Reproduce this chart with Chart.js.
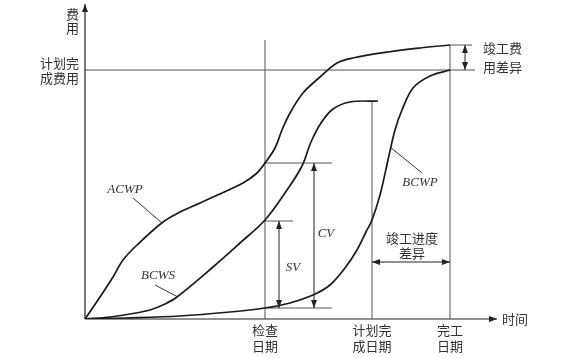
<!DOCTYPE html>
<html><head><meta charset="utf-8">
<script src="https://cdn.jsdelivr.net/npm/chart.js@4/dist/chart.umd.min.js"></script>
<style>html,body{margin:0;padding:0;background:#fff}canvas{display:block}</style>
</head><body>
<canvas id="c" width="579" height="358"></canvas>
<script>
// Time (x) and cost (y) in abstract units
const ACWP = [[0,0],[15,22],[28,42],[38,59],[52,74],[78,97],[95,107],[115,116],[128,122],[158,136],[172,146],[180,156],[190,171],[197,189],[205,206],[218,226],[235,242],[252,256],[268,261],[303,267],[335,271],[365,274]];
const BCWS = [[0,0],[25,2],[45,5],[65,9],[80,15],[92,22],[128,52],[155,76],[180,99],[202,129],[217,153],[226,177],[236,196],[248,210],[265,217],[293,218]];
const BCWP = [[0,0],[40,1],[95,3],[145,7],[180,11],[205,16],[228,24],[245,34],[260,51],[272,69],[281,87],[287,99],[295,124],[303,159],[310,189],[317,209],[328,231],[345,243],[365,249]];
const dateValues = [180, 287, 365];
const dateLabels = [['检查','日期'],['计划完','成日期'],['完工','日期']];
const plannedCost = 249;
const finalActualCost = 274;
const checkValues = {ACWP:156, BCWS:98, BCWP:11};
const axisMax = {x:412, y:315};

const line = (pts, w, c) => ({data: pts.map(p=>({x:p[0],y:p[1]})), showLine:true, pointRadius:0, borderColor:c, borderWidth:w, tension:0, fill:false});
const curve = (pts) => Object.assign(line(pts, 1.7, '#1a1a1a'), {tension:0.35});
const G = '#555';
const datasets = [
  curve(ACWP), curve(BCWS), curve(BCWP),
  line([[dateValues[0],0],[dateValues[0],279]],1,G),
  line([[dateValues[1],0],[dateValues[1],218]],1,G),
  line([[dateValues[2],0],[dateValues[2],finalActualCost]],1,G),
  line([[0,plannedCost],[390,plannedCost]],1,G),
  line([[dateValues[2],finalActualCost],[387,finalActualCost]],1,G),
  line([[dateValues[0],checkValues.ACWP],[247,checkValues.ACWP]],1,G),
  line([[dateValues[0],checkValues.BCWS],[208,checkValues.BCWS]],1,G),
  line([[dateValues[0],checkValues.BCWP],[247,checkValues.BCWP]],1,G),
  line([[48,121],[77,96]],1,'#333'),
  line([[70,34],[93,22]],1,'#333'),
  line([[305,172],[337,146]],1,'#333')
];

function arrowHead(ctx, x1,y1,x2,y2){ // tip at x2,y2
  const a = Math.atan2(y2-y1,x2-x1), L=8, W=3;
  ctx.beginPath();
  ctx.moveTo(x2,y2);
  ctx.lineTo(x2-L*Math.cos(a)+W*Math.sin(a), y2-L*Math.sin(a)-W*Math.cos(a));
  ctx.lineTo(x2-L*Math.cos(a)-W*Math.sin(a), y2-L*Math.sin(a)+W*Math.cos(a));
  ctx.closePath(); ctx.fill();
}
const deco = {
  id:'deco',
  afterDatasetsDraw(chart){
    const ctx=chart.ctx, xs=chart.scales.x, ys=chart.scales.y;
    const X=v=>xs.getPixelForValue(v), Y=v=>ys.getPixelForValue(v);
    ctx.save();
    ctx.strokeStyle='#222'; ctx.fillStyle='#222'; ctx.lineWidth=1.2;
    // axes
    ctx.beginPath(); ctx.moveTo(X(0),Y(0)); ctx.lineTo(X(0),Y(axisMax.y)); ctx.stroke();
    arrowHead(ctx,X(0),Y(0),X(0),Y(axisMax.y));
    ctx.beginPath(); ctx.moveTo(X(0),Y(0)); ctx.lineTo(X(axisMax.x),Y(0)); ctx.stroke();
    arrowHead(ctx,X(0),Y(0),X(axisMax.x),Y(0));
    // double arrows
    ctx.lineWidth=1;
    const dbl=(x1,y1,x2,y2)=>{ctx.beginPath();ctx.moveTo(x1,y1);ctx.lineTo(x2,y2);ctx.stroke();arrowHead(ctx,x1,y1,x2,y2);arrowHead(ctx,x2,y2,x1,y1);};
    dbl(X(229),Y(checkValues.BCWP),X(229),Y(checkValues.ACWP));
    dbl(X(194),Y(checkValues.BCWP),X(194),Y(checkValues.BCWS));
    dbl(X(380),Y(plannedCost),X(380),Y(finalActualCost));
    dbl(X(dateValues[1]),Y(57),X(dateValues[2]),Y(57));
    // texts
    ctx.fillStyle='#333';
    ctx.font='13px "Noto Sans CJK SC"'; ctx.textBaseline='middle';
    ctx.textAlign='center';
    dateValues.forEach((v,i)=>{ dateLabels[i].forEach((t,j)=>ctx.fillText(t, X(v), Y(0)+11+j*16)); });
    ctx.textAlign='right';
    ctx.fillText('费',X(0)-6,Y(305)); ctx.fillText('用',X(0)-6,Y(291));
    ctx.fillText('计划完',X(0)-6,Y(plannedCost)-7); ctx.fillText('成费用',X(0)-6,Y(plannedCost)+8);
    ctx.textAlign='left';
    ctx.fillText('时间',X(axisMax.x)+5,Y(0));
    ctx.fillText('竣工费',X(398),Y(271)); ctx.fillText('用差异',X(398),Y(252));
    ctx.textAlign='center';
    ctx.fillText('竣工进度',X(327),Y(81)); ctx.fillText('差异',X(327),Y(66));
    ctx.font='italic 13px "Liberation Serif"';
    ctx.fillText('ACWP',X(40),Y(129));
    ctx.fillText('BCWS',X(73),Y(43));
    ctx.fillText('BCWP',X(335),Y(136));
    ctx.fillText('CV',X(241),Y(85));
    ctx.fillText('SV',X(208),Y(51));
    ctx.restore();
  }
};
new Chart(document.getElementById('c'),{
  type:'scatter',
  data:{datasets},
  options:{
    responsive:false, animation:false, events:[],
    layout:{padding:{left:85,right:82,top:4,bottom:39}},
    plugins:{legend:{display:false},tooltip:{enabled:false}},
    scales:{
      x:{type:'linear',min:0,max:axisMax.x,display:false},
      y:{type:'linear',min:0,max:axisMax.y,display:false}
    }
  },
  plugins:[deco]
});
</script>
</body></html>
